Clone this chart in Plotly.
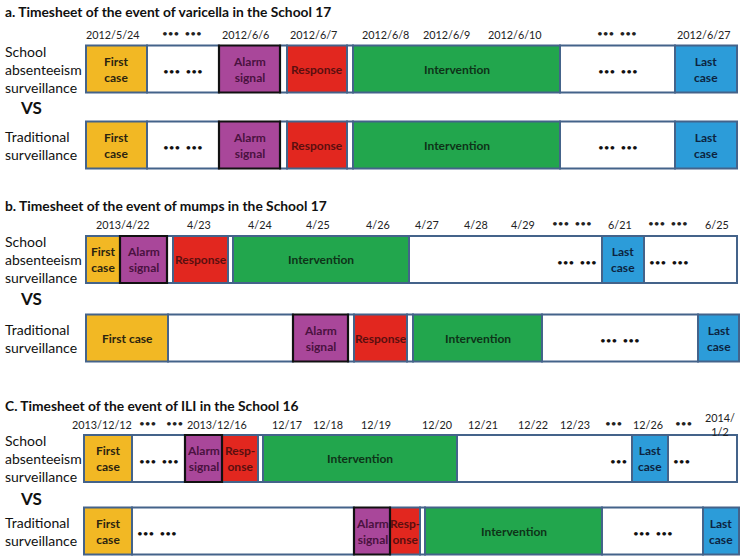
import plotly.graph_objects as go

# ---------------- data ----------------
COLORS = {
    "first": "#F2B824", "alarm": "#A9479A", "resp": "#E2271F",
    "interv": "#22A64D", "last": "#2C9CD9", "white": "#FFFFFF",
}
TEXTCOL = {
    "first": "#2b2410", "alarm": "#4a1240", "resp": "#5a0f0f",
    "interv": "#0e3318", "last": "#0c2440", "white": "#111111",
}

section_titles = [
    "a. Timesheet of the event of varicella in the School 17",
    "b. Timesheet of the event of mumps in the School 17",
    "C. Timesheet of the event of ILI in the School 16",
]
row_names = ["School<br>absenteeism<br>surveillance", "Traditional<br>surveillance"]

DOTS2 = "\u2022\u2022\u2022  \u2022\u2022\u2022"
DOTS1 = "\u2022\u2022\u2022"

# timeline segments: boundaries along the timeline, kind and label
a_school_edges = [86, 147, 219, 280, 287, 347, 353, 560, 675, 737]
a_school_kinds = ["first", "white", "alarm", "white", "resp", "white", "interv", "white", "last"]
a_school_text = ["First<br>case", DOTS2, "Alarm<br>signal", "", "Response", "", "Intervention", DOTS2, "Last<br>case"]

a_trad_edges = [86, 147, 219, 280, 287, 347, 353, 560, 675, 737]
a_trad_kinds = ["first", "white", "alarm", "white", "resp", "white", "interv", "white", "last"]
a_trad_text = ["First<br>case", DOTS2, "Alarm<br>signal", "", "Response", "", "Intervention", DOTS2, "Last<br>case"]

b_school_edges = [86, 120, 167, 173, 228, 233, 409, 602, 644, 737]
b_school_kinds = ["first", "alarm", "white", "resp", "white", "interv", "white", "last", "white"]
b_school_text = ["First<br>case", "Alarm<br>signal", "", "Response", "", "Intervention", DOTS2, "Last<br>case", DOTS2]
b_school_align = ["c", "c", "c", "c", "c", "c", "r", "c", "l"]

b_trad_edges = [86, 168, 293, 348, 354, 407, 413, 542, 698, 739]
b_trad_kinds = ["first", "white", "alarm", "white", "resp", "white", "interv", "white", "last"]
b_trad_text = ["First case", "", "Alarm<br>signal", "", "Response", "", "Intervention", DOTS2, "Last<br>case"]

c_school_edges = [84, 132, 185, 222, 258, 263, 457, 632, 668, 737]
c_school_kinds = ["first", "white", "alarm", "resp", "white", "interv", "white", "last", "white"]
c_school_text = ["First<br>case", DOTS2, "Alarm<br>signal", "Resp-<br>onse", "", "Intervention", DOTS1, "Last<br>case", DOTS1]
c_school_align = ["c", "c", "c", "c", "c", "c", "r", "c", "l"]

c_trad_edges = [84, 132, 354, 390, 420, 425, 602, 703, 739]
c_trad_kinds = ["first", "white", "alarm", "resp", "white", "interv", "white", "last"]
c_trad_text = ["First<br>case", DOTS2, "Alarm<br>signal", "Resp-<br>onse", "", "Intervention", DOTS2, "Last<br>case"]
c_trad_align = ["c", "l", "c", "c", "c", "c", "c", "c"]

# date labels above each section, placed along the timeline
a_dates = ["2012/5/24", DOTS2, "2012/6/6", "2012/6/7", "2012/6/8", "2012/6/9", "2012/6/10", DOTS2, "2012/6/27"]
a_date_pos = [113, 182, 245, 313, 385, 446, 515, 617, 704]
b_dates = ["2013/4/22", "4/23", "4/24", "4/25", "4/26", "4/27", "4/28", "4/29", DOTS2, "6/21", DOTS2, "6/25"]
b_date_pos = [123, 199, 260, 318, 378, 427, 476, 523, 572, 620, 668, 717]
c_dates = ["2013/12/12", DOTS1, DOTS1, "2013/12/16", "12/17", "12/18", "12/19", "12/20", "12/21",
           "12/22", "12/23", DOTS1, "12/26", DOTS1, "2014/<br>1/2"]
c_date_pos = [102, 147, 174, 217, 287, 328, 376, 437, 483, 533, 575, 613, 648, 683, 720]

rows = [
    dict(y=69, edges=a_school_edges, kinds=a_school_kinds, text=a_school_text, align=None),
    dict(y=145, edges=a_trad_edges, kinds=a_trad_kinds, text=a_trad_text, align=None),
    dict(y=259.5, edges=b_school_edges, kinds=b_school_kinds, text=b_school_text, align=b_school_align),
    dict(y=338, edges=b_trad_edges, kinds=b_trad_kinds, text=b_trad_text, align=None),
    dict(y=458.5, edges=c_school_edges, kinds=c_school_kinds, text=c_school_text, align=c_school_align),
    dict(y=531, edges=c_trad_edges, kinds=c_trad_kinds, text=c_trad_text, align=c_trad_align),
]
ROW_H = 47
sections = [
    dict(title_y=11, dates=a_dates, pos=a_date_pos, date_y=34, vs_y=107),
    dict(title_y=205, dates=b_dates, pos=b_date_pos, date_y=224, vs_y=298),
    dict(title_y=405, dates=c_dates, pos=c_date_pos, date_y=424, vs_y=498),
]

FONT = "Lato"
EDGE = "#44638A"

fig = go.Figure()
ann = []

for r in rows:
    e = r["edges"]
    starts = e[:-1]
    widths = [e[i + 1] - e[i] for i in range(len(e) - 1)]
    kinds = r["kinds"]
    for is_alarm in (False, True):
        idx = [i for i, k in enumerate(kinds) if (k == "alarm") == is_alarm]
        fig.add_trace(go.Bar(
            orientation="h",
            y=[r["y"]] * len(idx),
            x=[widths[i] for i in idx],
            base=[starts[i] for i in idx],
            width=ROW_H,
            marker=dict(
                color=[COLORS[kinds[i]] for i in idx],
                line=dict(color="#111111" if is_alarm else EDGE, width=2.2 if is_alarm else 2),
            ),
            hoverinfo="skip",
            showlegend=False,
        ))
    for i, t in enumerate(r["text"]):
        if not t:
            continue
        al = r["align"][i] if r["align"] else "c"
        k = kinds[i]
        if al == "c":
            x, xa = (starts[i] + e[i + 1]) / 2, "center"
        elif al == "l":
            x, xa = starts[i] + 3, "left"
        else:
            x, xa = e[i + 1] - 3, "right"
        isdots = t in (DOTS1, DOTS2)
        ann.append(dict(
            x=x, y=r["y"] + (2 if isdots else 0), xref="x", yref="y", xanchor=xa, yanchor="middle",
            text=t if isdots else "<b>" + t + "</b>", showarrow=False,
            font=dict(family=FONT, size=10 if isdots else 12, color=TEXTCOL[k]),
        ))

for s_i, s in enumerate(sections):
    ann.append(dict(x=3, y=s["title_y"], xref="x", yref="y", xanchor="left", yanchor="middle",
                    text="<b>" + section_titles[s_i] + "</b>", showarrow=False,
                    font=dict(family=FONT, size=13.8, color="#111111")))
    for lab, p in zip(s["dates"], s["pos"]):
        isdots = lab in (DOTS1, DOTS2)
        ann.append(dict(x=p, y=s["date_y"] - (1 if isdots else 0), xref="x", yref="y", xanchor="center",
                        yanchor="middle", text=lab, showarrow=False,
                        font=dict(family=FONT, size=10 if isdots else 10.8, color="#222222")))
    school, trad = rows[2 * s_i], rows[2 * s_i + 1]
    ann.append(dict(x=3, y=school["y"], xref="x", yref="y", xanchor="left", yanchor="middle",
                    text=row_names[0], showarrow=False, align="left",
                    font=dict(family=FONT, size=14, color="#111111")))
    ann.append(dict(x=3, y=trad["y"], xref="x", yref="y", xanchor="left", yanchor="middle",
                    text=row_names[1], showarrow=False, align="left",
                    font=dict(family=FONT, size=14, color="#111111")))
    ann.append(dict(x=18, y=s["vs_y"], xref="x", yref="y", xanchor="left", yanchor="middle",
                    text="<b>VS</b>", showarrow=False,
                    font=dict(family=FONT, size=17, color="#111111")))

W, H = 745, 560
fig.update_layout(
    width=W, height=H,
    margin=dict(l=0, r=0, t=0, b=0),
    paper_bgcolor="white", plot_bgcolor="white",
    barmode="overlay",
    xaxis=dict(range=[0, W], visible=False, fixedrange=True),
    yaxis=dict(range=[H, 0], visible=False, fixedrange=True),
    annotations=ann,
    showlegend=False,
)

fig.write_html(
    "out.html",
    config={"displayModeBar": False},
    post_script="document.body.style.margin='0';document.body.style.overflow='hidden';",
)
